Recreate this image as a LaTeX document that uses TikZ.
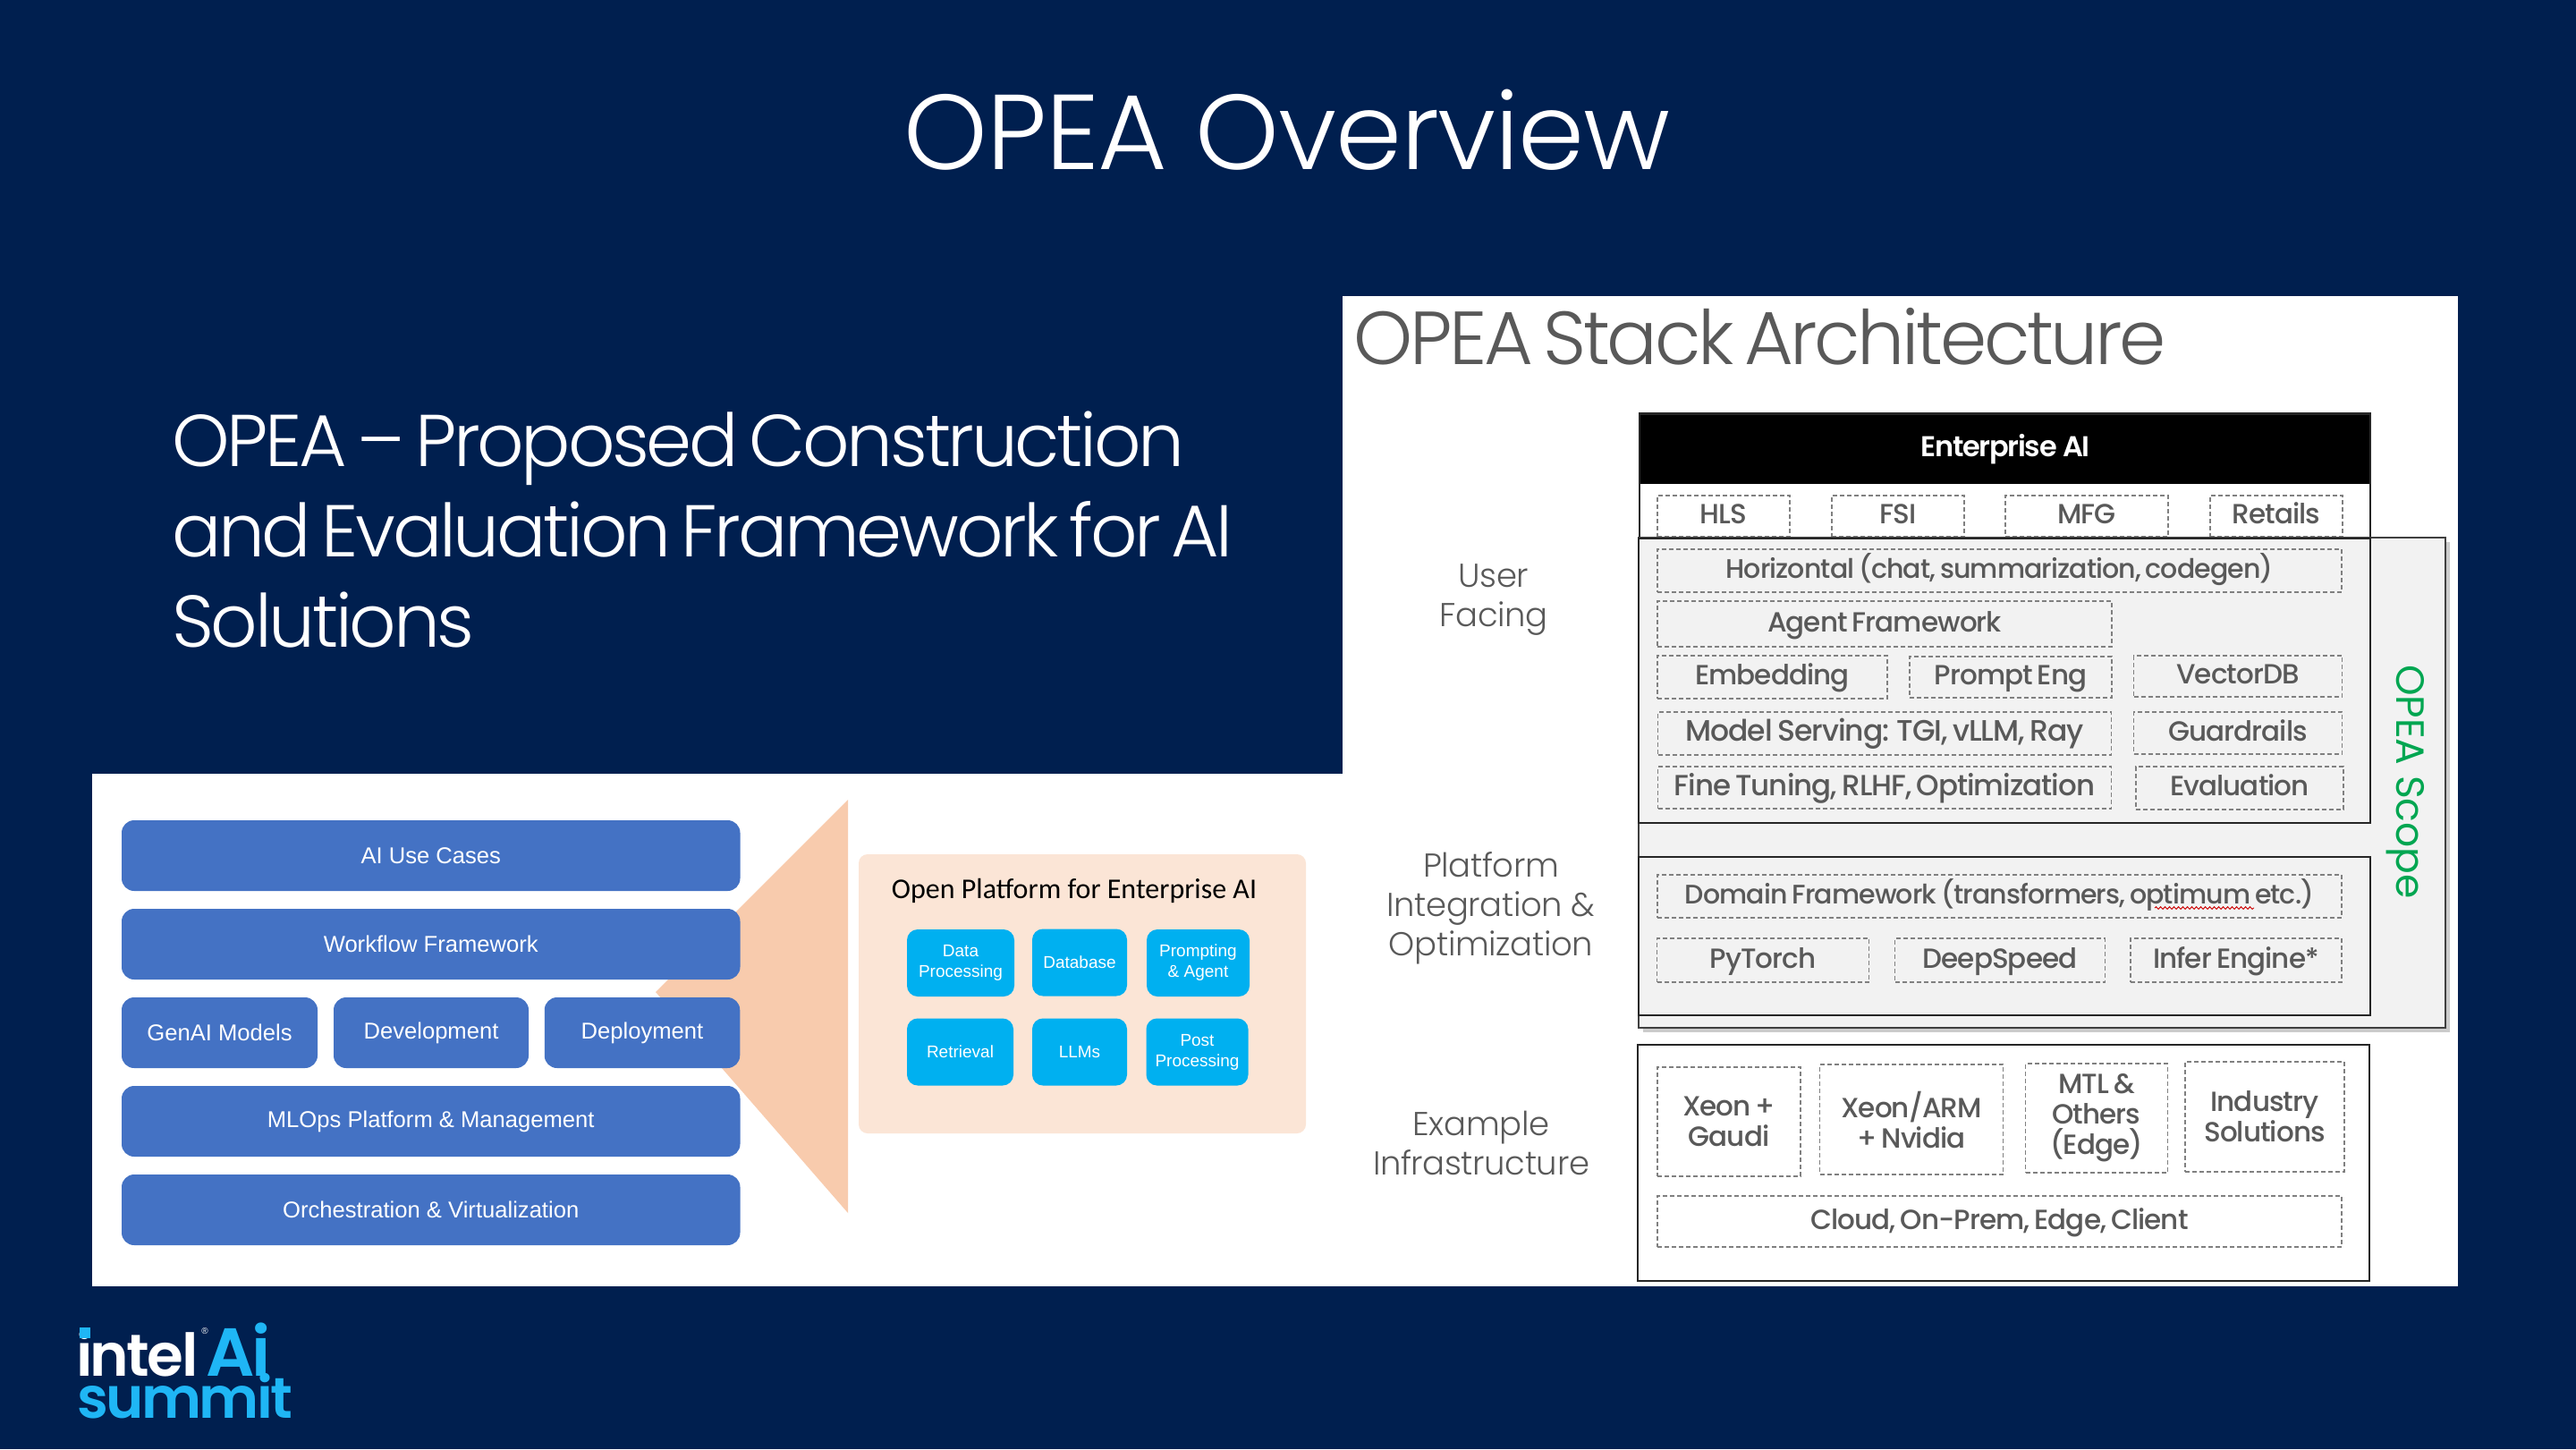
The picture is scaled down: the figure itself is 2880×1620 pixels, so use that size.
\documentclass[tikz,border=0pt]{standalone}
\usepackage{fontspec}
\usepackage{xcolor}
\usepackage{tikz}
\usetikzlibrary{shadows,decorations.pathmorphing}
\setmainfont{Liberation Sans}
\newfontfamily\titlefont{Poppins Light}[LetterSpace=-1,WordSpace=0.4]
\newfontfamily\leadfont{Poppins Light}[LetterSpace=-4,WordSpace=0.6]
\newfontfamily\sidefont{Poppins Light}[LetterSpace=-1]
\newfontfamily\scopefont{Poppins}
\newfontfamily\mediumfont{Poppins Medium}[LetterSpace=-3,WordSpace=0.7]
\newfontfamily\boldfont{Poppins SemiBold}[LetterSpace=-4]
\newfontfamily\calfont{Carlito}
\newcommand{\fsz}[2]{\fontsize{#1}{#2}\selectfont}
\definecolor{navy}{HTML}{001F4F}
\definecolor{blockblue}{HTML}{4472C4}
\definecolor{skyblue}{HTML}{00B0F0}
\definecolor{logoblue}{HTML}{1FB6F5}
\definecolor{wedge}{HTML}{F8CBAD}
\definecolor{peach}{HTML}{FBE5D6}
\definecolor{slate}{HTML}{595959}
\definecolor{scopegreen}{HTML}{00A651}
\definecolor{scopegray}{HTML}{F2F2F2}

\begin{document}
\begin{tikzpicture}[x=1pt,y=-1pt]
		\tikzstyle{blockbox}=[fill=blockblue,rounded corners=14,inner sep=0pt,text=white,align=center,minimum height=79,font=\fsz{25.6}{30}]
		\tikzstyle{cellbox}=[fill=skyblue,rounded corners=12,inner sep=0pt,text=white,align=center,font=\fsz{19}{23}]
		\tikzstyle{dashbox}=[draw=gray,line width=1.3pt,dash pattern=on 5pt off 3pt,inner sep=0pt,text=slate,align=center,font=\mediumfont\fsz{31}{34}]
		\tikzstyle{rowbox}=[dashbox,text height=24pt,text depth=7pt]
		\tikzstyle{solidbox}=[draw=black!85,line width=2.6pt,inner sep=0pt]
		\tikzstyle{sidetext}=[inner sep=0pt,text=slate,align=center,font=\sidefont\fsz{37}{44}]
		\fill[navy] (0,0) rectangle (2880,1620);
		\fill[white] (103,865) rectangle (1501,1438);
		\fill[white] (1501,331) rectangle (2748,1438);
		\node[inner sep=0pt,text=white,font=\titlefont\fsz{119}{130}] (title) at (1439,145) {OPEA Overview};
		\node[inner sep=0pt,text=white,anchor=north west,align=left,font=\leadfont\fsz{82}{101}] (lead) at (192,460) {OPEA – Proposed Construction\\and Evaluation Framework for AI\\Solutions};
		\node[inner sep=0pt,text=slate,anchor=base west,font=\leadfont\fsz{84}{90}] (stack) at (1513,407) {OPEA Stack Architecture};
		\fill[wedge] (948,894) -- (733,1109) -- (948,1356) -- cycle;
		\node[blockbox,minimum width=691.5] (usecases) at (481.75,956.5) {AI Use Cases};
		\node[blockbox,minimum width=691.5] (workflow) at (481.75,1055.5) {Workflow Framework};
		\node[blockbox,minimum width=219] (genai) at (245.5,1154.5) {GenAI Models};
		\node[blockbox,minimum width=218] (develop) at (482,1154.5) {Development};
		\node[blockbox,minimum width=218.5] (deploy) at (718,1154.5) {Deployment};
		\node[blockbox,minimum width=691.5] (mlops) at (481.75,1253.5) {MLOps Platform \& Management};
		\node[blockbox,minimum width=691.5] (orch) at (481.75,1352.5) {Orchestration \& Virtualization};
		\node[fill=peach,rounded corners=10,inner sep=0pt,minimum width=500,minimum height=312] (platform) at (1210,1111) {};
		\node[inner sep=0pt,font=\calfont\fsz{32}{36}] (platformlabel) at (1201,996) {Open Platform for Enterprise AI};
		\node[cellbox,minimum width=120,minimum height=75] (data) at (1074,1076.5) {Data\\Processing};
		\node[cellbox,minimum width=106,minimum height=75] (database) at (1207,1076) {Database};
		\node[cellbox,minimum width=115,minimum height=75] (prompting) at (1339.5,1076.5) {Prompting\\\& Agent};
		\node[cellbox,minimum width=119,minimum height=75] (retrieval) at (1073.5,1176) {Retrieval};
		\node[cellbox,minimum width=106,minimum height=75] (llms) at (1207,1176) {LLMs};
		\node[cellbox,minimum width=114,minimum height=75] (post) at (1338.5,1176) {Post\\Processing};
		\node[fill=black,inner sep=0pt,minimum width=816,minimum height=78,text=white,font=\boldfont\fsz{32}{36}] (enterprise) at (2242,502) {Enterprise AI};
		\node[solidbox,minimum width=817,minimum height=139] (topbox) at (2241.5,532) {};
		\node[rowbox,minimum width=148,minimum height=46] (hls) at (1927,577) {HLS};
		\node[rowbox,minimum width=148,minimum height=46] (fsi) at (2122,577) {FSI};
		\node[rowbox,minimum width=182,minimum height=46] (mfg) at (2333,577) {MFG};
		\node[rowbox,minimum width=148,minimum height=46] (retails) at (2545,577) {Retails};
		\node[draw=black!75,line width=2pt,fill=scopegray,inner sep=0pt,minimum width=902,minimum height=548,drop shadow={shadow xshift=5pt,shadow yshift=-5pt,fill=gray,opacity=0.4}] (scope) at (2283,875) {};
		\node[solidbox,minimum width=818,minimum height=318] (userbox) at (2241,761) {};
		\node[solidbox,minimum width=818,minimum height=177] (platbox) at (2241,1046.5) {};
		\node[solidbox,fill=white,minimum width=818,minimum height=264] (infrabox) at (2240,1300) {};
		\node[rowbox,minimum width=765,minimum height=48,font=\mediumfont\fsz{30}{34}] (horizontal) at (2235.5,638) {Horizontal (chat, summarization, codegen)};
		\node[rowbox,minimum width=508,minimum height=51] (agent) at (2107,697.5) {Agent Framework};
		\node[rowbox,minimum width=257,minimum height=48] (embedding) at (1981.5,757) {Embedding};
		\node[rowbox,minimum width=226,minimum height=46] (prompt) at (2248,757) {Prompt Eng};
		\node[rowbox,minimum width=233,minimum height=46] (vectordb) at (2502,756) {VectorDB};
		\node[rowbox,minimum width=507,minimum height=48,font=\mediumfont\fsz{33}{34}] (serving) at (2107,820) {Model Serving: TGI, vLLM, Ray};
		\node[rowbox,minimum width=233,minimum height=47] (guardrails) at (2502,819.5) {Guardrails};
		\node[rowbox,minimum width=507,minimum height=47,font=\mediumfont\fsz{32.5}{34}] (tuning) at (2107,880.5) {Fine Tuning, RLHF, Optimization};
		\node[rowbox,minimum width=232,minimum height=48] (evaluation) at (2504,881) {Evaluation};
		\node[rowbox,minimum width=765,minimum height=48,font=\mediumfont\fsz{30}{34}] (domain) at (2235.5,1002) {Domain Framework (transformers, optimum etc.)};
		\node[rowbox,minimum width=237,minimum height=49] (pytorch) at (1971,1073.5) {PyTorch};
		\node[rowbox,minimum width=234.5,minimum height=49] (deepspeed) at (2236,1073.5) {DeepSpeed};
		\node[rowbox,minimum width=236,minimum height=49] (infer) at (2500,1073.5) {Infer Engine*};
		\node[dashbox,minimum width=160,minimum height=122] (xeon) at (1933,1254) {Xeon +\\Gaudi};
		\node[dashbox,minimum width=205,minimum height=123] (xeonarm) at (2137,1251.5) {Xeon/ARM\\+ Nvidia};
		\node[dashbox,minimum width=158.6,minimum height=122] (mtl) at (2344,1250) {MTL \&\\Others\\(Edge)};
		\node[dashbox,minimum width=178,minimum height=123] (industry) at (2532,1248.5) {Industry\\Solutions};
		\node[rowbox,minimum width=765,minimum height=57] (cloud) at (2235.5,1365.5) {Cloud, On-Prem, Edge, Client};
		\draw[red!80!black,line width=0.9pt,decorate,decoration={snake,amplitude=1.3pt,segment length=5pt}] (2409,1015) -- (2520,1015);
		\node[sidetext] (user) at (1670,671) {User\\Facing};
		\node[sidetext] (integration) at (1667,1015) {Platform\\Integration \&\\Optimization};
		\node[sidetext] (infra) at (1656,1278) {Example\\Infrastructure};
		\node[inner sep=0pt,rotate=-90,text=scopegreen,font=\scopefont\fsz{44}{48}] (scopelabel) at (2689,874) {OPEA Scope};
		\node[inner sep=0pt,anchor=base west,text=white,font=\boldfont\fsz{66}{66}] (intel) at (85,1538) {intel};
		\fill[logoblue] (89,1484) rectangle (101,1496);
		\node[inner sep=0pt,text=white,font=\fsz{10}{10}] (regmark) at (229,1488) {®};
		\node[inner sep=0pt,anchor=base west,text=logoblue,font=\boldfont\fsz{76}{76}] (ai) at (230,1538) {Ai};
		\node[inner sep=0pt,anchor=base west,text=logoblue,font=\boldfont\fsz{64}{64}] (summit) at (86,1585) {summit};
\end{tikzpicture}
\end{document}
